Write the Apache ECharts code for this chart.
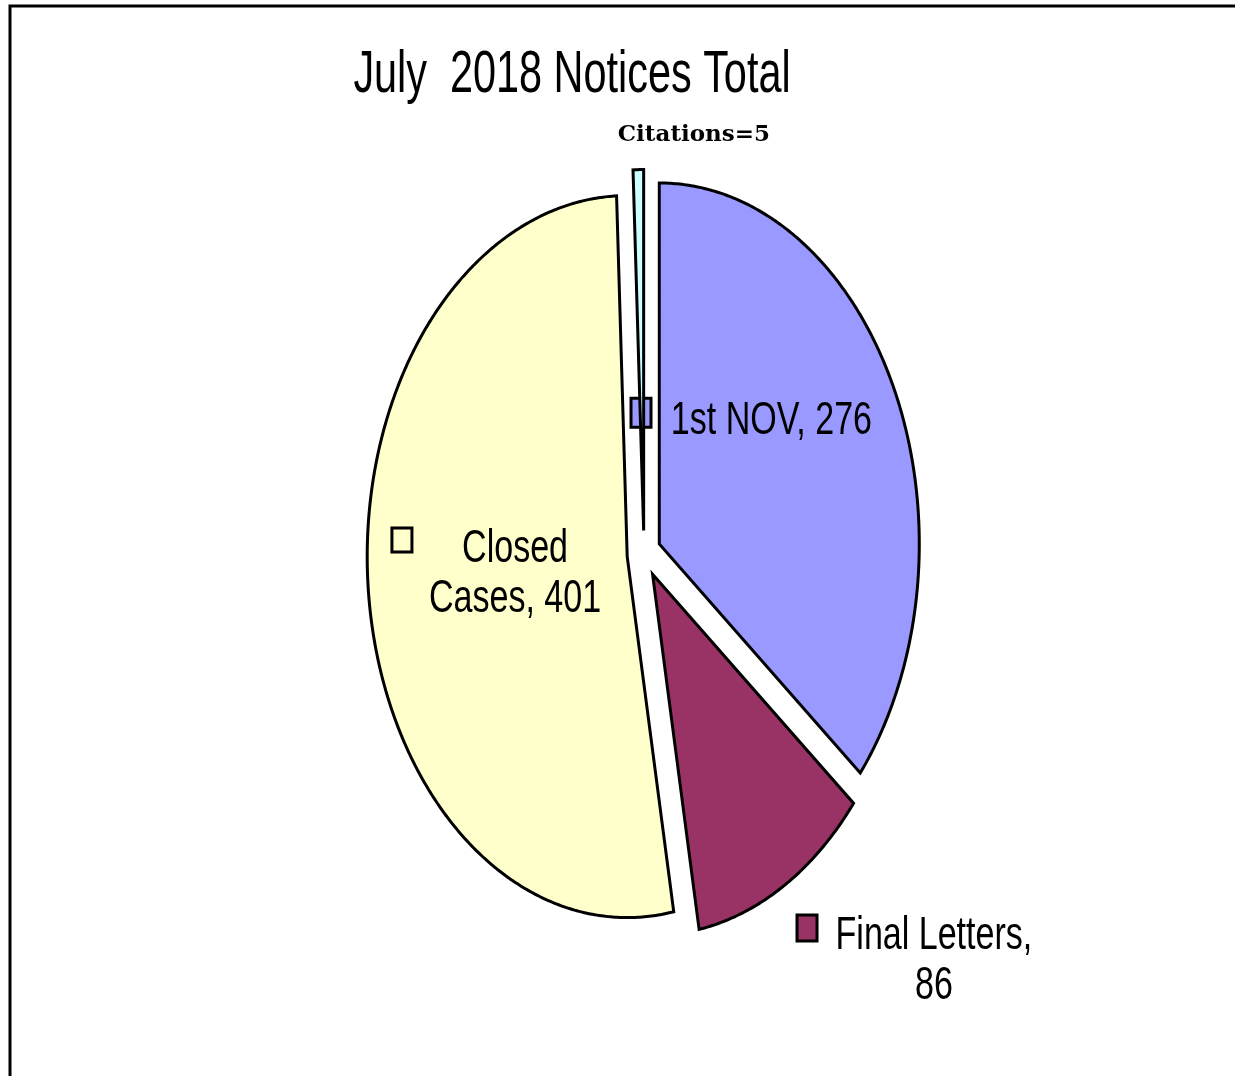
<!DOCTYPE html>
<html>
<head>
<meta charset="utf-8">
<script src="https://cdn.jsdelivr.net/npm/echarts@6/dist/echarts.min.js"></script>
<style>
    html, body {margin: 0; padding: 0; background: #fff;}
    #main {width: 1235px; height: 1076px;}
</style>
</head>
<body>
<div id="main"></div>
<script>
    // slices, clockwise from 12 o'clock
    const categories = ['1st NOV', 'Final Letters', 'Closed Cases', 'Citations'];
    const values = [276, 86, 401, 5];
    const colors = ['#9999FF', '#993366', '#FFFFCC', '#CCFFFF'];
    const titleText = 'July  2018 Notices Total';

    // pie geometry (elliptical, as in the original sheet)
    const CX = 644, CY = 554, RX = 260, RY = 361;
    const EXPLODE = 0.065;

    // label placement, in units of the radii from the pie centre
    const labelLayout = [
        {text: [0.490, -0.368], box: [-0.0115, -0.391], boxSize: [20, 29], wrap: 0},
        {text: [1.115, 1.128], box: [0.627, 1.036], boxSize: [20, 26], wrap: 2},
        {text: [-0.496, 0.055], box: [-0.931, -0.039], boxSize: [20, 24], wrap: 1},
        {text: [0.192, -1.161], box: null, wrap: 0, plain: true}
    ];

    const NARROW = 'Liberation Sans';

    function wrapLabel(str, n) {
        if (!n) return str;
        let count = 0;
        return str.replace(/ /g, function (m) {
            count++;
            return count === n ? '\n' : m;
        });
    }

    const total = values.reduce((a, b) => a + b, 0);

    function renderItem(params, api) {
        const i = params.dataIndex;
        const v = api.value(0);
        let before = 0;
        for (let k = 0; k < i; k++) before += values[k];
        const a0 = before / total * Math.PI * 2;
        const a1 = (before + v) / total * Math.PI * 2;
        const mid = (a0 + a1) / 2;
        const ox = CX + EXPLODE * RX * Math.sin(mid);
        const oy = CY - EXPLODE * RY * Math.cos(mid);

        const pts = [[ox, oy]];
        const steps = Math.max(2, Math.ceil((a1 - a0) / (Math.PI / 360)));
        for (let s = 0; s <= steps; s++) {
            const a = a0 + (a1 - a0) * s / steps;
            pts.push([ox + RX * Math.sin(a), oy - RY * Math.cos(a)]);
        }

        const children = [{
            type: 'polygon',
            shape: {points: pts},
            style: {fill: colors[i], stroke: '#000', lineWidth: 3, lineJoin: 'miter'}
        }];

        const lay = labelLayout[i];
        const name = categories[i];
        if (lay.plain) {
            children.push({
                type: 'text',
                x: CX + lay.text[0] * RX,
                y: CY + lay.text[1] * RY,
                style: {
                    text: name + '=' + v,
                    font: 'bold 23px "DejaVu Serif"',
                    fill: '#000',
                    align: 'center',
                    verticalAlign: 'middle'
                }
            });
        } else {
            children.push({
                type: 'rect',
                shape: {
                    x: CX + lay.box[0] * RX - lay.boxSize[0] / 2,
                    y: CY + lay.box[1] * RY - lay.boxSize[1] / 2,
                    width: lay.boxSize[0],
                    height: lay.boxSize[1]
                },
                style: {fill: colors[i], stroke: '#000', lineWidth: 3}
            });
            children.push({
                type: 'text',
                x: CX + lay.text[0] * RX,
                y: CY + lay.text[1] * RY,
                scaleX: 0.74,
                style: {
                    text: wrapLabel(name + ', ' + v, lay.wrap),
                    font: '46px "' + NARROW + '"',
                    lineHeight: 50,
                    fill: '#000',
                    align: 'center',
                    verticalAlign: 'middle'
                }
            });
        }
        return {type: 'group', children: children};
    }

    const myChart = echarts.init(document.getElementById('main'));
    const option = {
        backgroundColor: '#fff',
        animation: false,
        graphic: [
            {
                type: 'rect',
                shape: {x: 10, y: 6, width: 1400, height: 1200},
                style: {fill: 'none', stroke: '#000', lineWidth: 3}
            },
            {
                type: 'text',
                x: 572,
                y: 75,
                scaleX: 0.69,
                style: {
                    text: titleText,
                    font: '60px "' + NARROW + '"',
                    fill: '#000',
                    align: 'center',
                    verticalAlign: 'middle'
                }
            }
        ],
        series: [{
            type: 'custom',
            coordinateSystem: 'none',
            renderItem: renderItem,
            data: values.map((v, i) => ({name: categories[i], value: [v]}))
        }]
    };
    myChart.setOption(option);
</script>
</body>
</html>
